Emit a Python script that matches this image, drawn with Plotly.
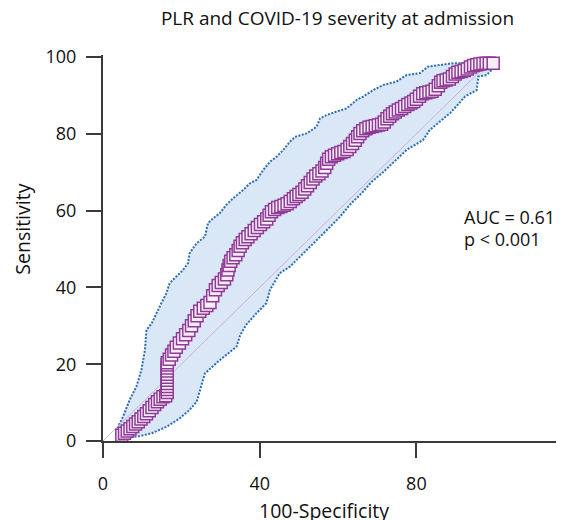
import plotly.graph_objects as go

# ROC curve points (100-Specificity, Sensitivity)
roc_fpr = [4.8, 5.5, 6.2, 6.9, 7.6, 8.3, 9.0, 9.7, 10.4, 11.1, 11.8, 12.5, 13.2, 13.9, 14.6, 15.3, 16.0,
           16.4, 16.4, 16.4, 16.4, 16.4, 16.4, 16.4, 16.4, 16.4, 16.4, 16.4,
           16.9, 17.5, 18.1, 18.7, 19.5, 20.3, 21.1, 21.9, 22.6, 23.3, 24.0, 24.7, 25.6, 26.5, 27.3,
           28.0, 28.7, 29.4, 30.2, 31.0, 31.6, 31.9, 32.2, 32.6, 33.2, 33.9, 34.5, 35.0, 35.6, 36.3, 37.0,
           37.8, 38.6, 39.4, 40.2, 41.0, 41.8, 42.4, 43.0, 43.8, 44.6, 45.4, 46.2, 47.0, 47.8, 48.6, 49.3,
           50.0, 50.8, 51.5, 52.2,
           52.9, 53.6, 54.3, 55.1, 55.9, 56.6, 57.1, 57.6, 58.3, 59.1, 59.9, 60.7, 61.5, 62.3, 63.0, 63.7,
           64.4, 65.0, 65.6, 66.3, 67.1, 67.9, 68.7, 69.5, 70.3, 71.1, 71.8, 72.5, 73.2, 73.9, 74.6, 75.4,
           76.2, 77.0, 77.8, 78.6, 79.3,
           80.0, 80.8, 81.6, 82.4, 83.2, 84.0, 84.8, 85.6, 86.2, 86.8, 87.6, 88.4, 89.2, 89.9, 90.6, 91.4,
           92.2, 93.0, 93.8, 94.6, 95.4, 96.2, 97.0, 97.8, 98.6, 99.6]
roc_tpr = [1.5, 2.0, 2.6, 3.2, 3.8, 4.4, 5.0, 5.7, 6.4, 7.1, 7.9, 8.7, 9.5, 10.2, 10.9, 11.5, 11.8,
           12.6, 13.4, 14.2, 15.0, 15.8, 16.6, 17.4, 18.2, 19.0, 19.8, 20.4,
           21.3, 22.4, 23.4, 24.4, 25.5, 26.6, 27.7, 28.8, 30.0, 31.3, 32.6, 33.8, 34.6, 35.3, 36.1,
           37.8, 39.4, 40.5, 41.3, 42.2, 43.3, 44.5, 45.7, 46.8, 47.7, 48.5, 49.6, 50.7, 51.6, 52.5, 53.2,
           54.0, 54.8, 55.6, 56.4, 57.1, 57.8, 58.8, 59.7, 60.3, 60.8, 61.1, 61.4, 61.8, 62.4, 63.1, 63.7,
           64.2, 64.8, 65.6, 66.5,
           67.3, 68.2, 69.0, 69.6, 70.3, 71.2, 72.3, 73.4, 74.0, 74.4, 74.8, 75.1, 75.4, 75.9, 76.7, 77.5,
           78.3, 79.2, 80.1, 80.8, 81.3, 81.7, 81.9, 82.1, 82.3, 82.5, 83.1, 83.9, 84.6, 85.2, 85.7, 86.2,
           86.6, 87.1, 87.6, 88.0, 88.4,
           89.0, 89.8, 90.4, 90.7, 90.9, 91.1, 91.6, 92.5, 93.4, 93.8, 94.0, 94.3, 94.9, 95.6, 96.0, 96.2,
           96.5, 96.9, 97.4, 97.8, 98.0, 98.2, 98.3, 98.4, 98.4, 98.4]

# Upper 95% confidence bound
ci_upper_x = [3.6, 3.8, 5.1, 6.8, 8.5, 9.8, 10.7, 11.1, 12.4, 13.6, 14.9, 16.2, 17.0, 18.7, 20.4, 21.7,
              22.1, 23.9, 26.0, 26.8, 28.1, 29.8, 31.5, 33.2, 35.8, 37.5, 39.2, 40.9, 42.6, 44.3, 46.0,
              47.7, 49.0, 52.0, 54.5, 55.4, 57.1, 59.6, 62.2, 64.7, 66.4, 69.0, 71.5, 74.9, 77.5, 80.9,
              83.0, 86.0, 89.4, 92.8, 97.1, 99.6]
ci_upper_y = [1.5, 3.7, 6.3, 10.7, 14.1, 18.5, 23.7, 28.9, 30.6, 33.3, 35.9, 38.5, 41.1, 42.8, 44.5, 46.3,
              48.9, 51.5, 53.2, 56.7, 58.0, 59.3, 61.5, 63.2, 65.4, 67.1, 68.0, 70.6, 72.7, 74.0, 75.8,
              77.9, 79.2, 80.1, 81.8, 84.0, 84.9, 85.8, 86.6, 88.8, 89.7, 91.4, 92.7, 93.6, 95.3, 95.8,
              97.5, 97.9, 98.4, 98.4, 98.8, 98.6]

# Lower 95% confidence bound
ci_lower_x = [3.6, 6.5, 9.4, 12.4, 16.2, 19.6, 22.1, 23.9, 24.7, 26.0, 29.4, 31.5, 34.1, 35.0, 36.5,
              39.2, 41.7, 42.6, 45.1, 47.7, 50.2, 53.6, 57.1, 60.5, 63.0, 66.0, 68.6, 71.5, 74.5, 77.5,
              81.7, 83.4, 86.0, 88.6, 90.5, 92.4, 95.4, 95.8, 97.9, 99.2, 99.6]
ci_lower_y = [0.6, 1.0, 1.3, 2.0, 3.7, 5.9, 8.1, 10.2, 13.3, 17.6, 20.7, 22.4, 24.6, 27.5, 30.2,
              33.3, 35.9, 39.3, 43.7, 45.4, 48.0, 51.5, 54.9, 58.4, 61.5, 64.5, 67.5, 70.0, 72.8, 75.8,
              78.4, 81.0, 83.2, 85.4, 87.5, 89.7, 91.4, 94.9, 95.3, 96.6, 98.6]

diag_x = [0, 100]
diag_y = [0, 100]

x_ticks = [0, 40, 80]
y_ticks = [0, 20, 40, 60, 80, 100]

FONT = "Open Sans"
OFF = 8                      # page body offset of the figure in the browser window
W, H = 556, 512
L, R, T, B = 95.3, 0, 47, 79
PW, PH = W - L - R, H - T - B

fig = go.Figure()

# confidence band fill
fig.add_trace(go.Scatter(
    x=ci_upper_x + ci_lower_x[::-1], y=ci_upper_y + ci_lower_y[::-1],
    fill="toself", fillcolor="#d9e7f7", line=dict(width=0), mode="lines",
    hoverinfo="skip", showlegend=False))
# dotted bounds
for bx, by in ((ci_upper_x, ci_upper_y), (ci_lower_x, ci_lower_y)):
    fig.add_trace(go.Scatter(
        x=bx, y=by, mode="lines",
        line=dict(color="#2b6cb3", width=2, dash="2px,1.5px"),
        showlegend=False))
# reference diagonal
fig.add_trace(go.Scatter(
    x=diag_x, y=diag_y, mode="lines",
    line=dict(color="#cdb0cf", width=1), showlegend=False))
# ROC points
fig.add_trace(go.Scatter(
    x=roc_fpr, y=roc_tpr, mode="markers",
    marker=dict(symbol="square", size=12, color="#f8edf8",
                line=dict(color="#8f3a97", width=1.5)),
    cliponaxis=False, showlegend=False))


def px_x(p):
    return (p - OFF - L) / PW


def px_y(p):
    return (H - B - (p - OFF)) / PH


fig.add_annotation(text="AUC = 0.61", x=px_x(462), y=px_y(217), xref="paper", yref="paper",
                   xanchor="left", yanchor="middle", showarrow=False,
                   font=dict(family=FONT, size=18, color="#111"))
fig.add_annotation(text="p < 0.001", x=px_x(462), y=px_y(239), xref="paper", yref="paper",
                   xanchor="left", yanchor="middle", showarrow=False,
                   font=dict(family=FONT, size=18, color="#111"))
fig.add_annotation(text="Sensitivity", x=px_x(22), y=px_y(229), xref="paper", yref="paper",
                   xanchor="center", yanchor="middle", textangle=-90, showarrow=False,
                   font=dict(family=FONT, size=19.5, color="#111"))
fig.add_annotation(text="100-Specificity", x=px_x(324), y=px_y(510), xref="paper", yref="paper",
                   xanchor="center", yanchor="middle", showarrow=False,
                   font=dict(family=FONT, size=19.5, color="#111"))

axis_common = dict(showgrid=False, zeroline=False, showline=True, linecolor="#3a3a3a",
                   linewidth=2, ticks="outside", ticklen=15, tickwidth=2, tickcolor="#3a3a3a",
                   tickfont=dict(family=FONT, size=18, color="#111"), automargin=False)

fig.update_layout(
    width=W, height=H,
    margin=dict(l=L, r=R, t=T, b=B),
    paper_bgcolor="white", plot_bgcolor="white",
    title=dict(text="PLR and COVID-19 severity at admission", x=(337.5 - OFF) / W, xref="container",
               xanchor="center", y=1 - (18 - OFF) / H, yref="container", yanchor="middle",
               font=dict(family=FONT, size=19, color="#111")),
    xaxis=dict(range=[0, PW / 3.915], tickmode="array", tickvals=x_ticks,
               ticklabelstandoff=10, **axis_common),
    yaxis=dict(range=[0, PH / 3.84], tickmode="array", tickvals=y_ticks,
               ticklabelstandoff=6, **axis_common),
    showlegend=False,
)

fig.write_html("out.html")
